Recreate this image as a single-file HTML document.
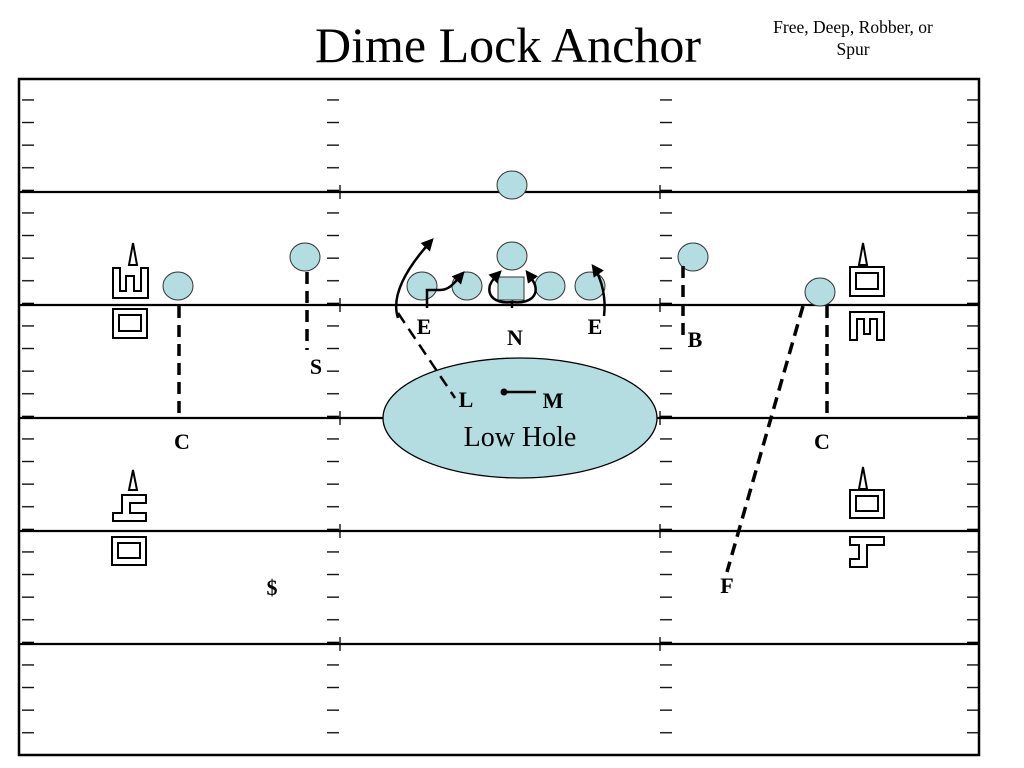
<!DOCTYPE html>
<html><head><meta charset="utf-8"><style>
html,body{margin:0;padding:0;background:#fff;}
svg{display:block;}
text{font-family:"Liberation Serif",serif;}
.b{font-weight:bold;font-size:22px;}
</style></head><body>
<svg width="1024" height="768" viewBox="0 0 1024 768" xmlns="http://www.w3.org/2000/svg">
<defs>
<pattern id="h" x="0" y="78" width="1024" height="22.6" patternUnits="userSpaceOnUse">
<rect x="22" y="21.3" width="12" height="2.8" fill="#000"/>
<rect x="327" y="21.3" width="12" height="2.8" fill="#000"/>
<rect x="660" y="21.3" width="12" height="2.8" fill="#000"/>
<rect x="967" y="21.3" width="12" height="2.8" fill="#000"/>
</pattern>
<marker id="ar" viewBox="0 0 10 10" refX="8" refY="5" markerWidth="5" markerHeight="5" orient="auto"><path d="M0,0 L10,5 L0,10 Z" fill="#000"/></marker>
</defs>
<text x="508" y="62" font-size="50" text-anchor="middle">Dime Lock Anchor</text>
<text x="853" y="33" font-size="17.5" text-anchor="middle">Free, Deep, Robber, or</text>
<text x="853" y="55" font-size="17.5" text-anchor="middle">Spur</text>

<rect x="18" y="78" width="962" height="678" fill="url(#h)"/>
<rect x="19" y="79" width="960" height="676" fill="none" stroke="#000" stroke-width="2.5"/>
<g stroke="#000" stroke-width="2.2">
<line x1="18" y1="192" x2="980" y2="192"/>
<line x1="18" y1="305" x2="980" y2="305"/>
<line x1="18" y1="418" x2="980" y2="418"/>
<line x1="18" y1="531" x2="980" y2="531"/>
<line x1="18" y1="644" x2="980" y2="644"/>
</g>
<g stroke="#000" stroke-width="1.3">
<line x1="340" y1="185" x2="340" y2="199"/><line x1="660" y1="185" x2="660" y2="199"/>
<line x1="340" y1="298" x2="340" y2="312"/><line x1="660" y1="298" x2="660" y2="312"/>
<line x1="340" y1="411" x2="340" y2="425"/><line x1="660" y1="411" x2="660" y2="425"/>
<line x1="340" y1="524" x2="340" y2="538"/><line x1="660" y1="524" x2="660" y2="538"/>
<line x1="340" y1="637" x2="340" y2="651"/><line x1="660" y1="637" x2="660" y2="651"/>
</g>

<ellipse cx="520" cy="418" rx="137" ry="60" fill="#b3dde0" stroke="#000" stroke-width="1.3"/>

<g fill="#b3dde0" stroke="#333" stroke-width="1">
<ellipse cx="512" cy="185" rx="15" ry="14"/>
<ellipse cx="178" cy="286" rx="15" ry="14"/>
<ellipse cx="305" cy="257" rx="15" ry="14"/>
<ellipse cx="422" cy="286" rx="15" ry="14"/>
<ellipse cx="467" cy="286" rx="15" ry="14"/>
<ellipse cx="512" cy="256" rx="15" ry="14"/>
<ellipse cx="550" cy="286" rx="15" ry="14"/>
<ellipse cx="590" cy="286" rx="15" ry="14"/>
<ellipse cx="693" cy="257" rx="15" ry="14"/>
<ellipse cx="820" cy="292" rx="15" ry="14"/>
<rect x="498" y="277" width="26" height="23"/>
</g>

<g stroke="#000" stroke-width="3.5" stroke-dasharray="12,7" fill="none">
<line x1="179" y1="306" x2="179" y2="414"/>
<line x1="307" y1="272" x2="307" y2="350"/>
<line x1="827" y1="306" x2="827" y2="414"/>
<line x1="683" y1="266" x2="683" y2="340"/>
<line x1="803" y1="306" x2="727" y2="572"/>
<line x1="398" y1="313" x2="455" y2="398" stroke-width="2.5"/>
</g>

<g stroke="#000" stroke-width="2.5" fill="none">
<path d="M398,318 C392,300 400,275 432,240" marker-end="url(#ar)"/>
<path d="M427,308 L427,290 L440,290 C450,290 455,282 463,273" marker-end="url(#ar)"/>
<path d="M512,308 L512,302 C495,304 487,296 490,285 C492,280 496,276 500,272" marker-end="url(#ar)"/>
<path d="M512,302 C530,304 538,296 535,285 C533,280 530,276 527,272" marker-end="url(#ar)"/>
<path d="M604,316 C606,300 603,280 593,266" marker-end="url(#ar)"/>
<line x1="505" y1="392" x2="536" y2="392"/>
</g>
<circle cx="504" cy="392" r="3.5" fill="#000"/>

<text class="b" x="424" y="334" text-anchor="middle">E</text>
<text class="b" x="515" y="345" text-anchor="middle">N</text>
<text class="b" x="595" y="334" text-anchor="middle">E</text>
<text class="b" x="695" y="347" text-anchor="middle">B</text>
<text class="b" x="316" y="374" text-anchor="middle">S</text>
<text class="b" x="466" y="407" text-anchor="middle">L</text>
<text class="b" x="553" y="408" text-anchor="middle">M</text>
<text x="520" y="446" font-size="28" text-anchor="middle">Low Hole</text>
<text class="b" x="182" y="449" text-anchor="middle">C</text>
<text class="b" x="822" y="449" text-anchor="middle">C</text>
<text class="b" x="272" y="595" text-anchor="middle">$</text>
<text class="b" x="727" y="593" text-anchor="middle">F</text>

<g stroke="#000" stroke-width="2" fill="none">
<path d="M133,243 L129,265 L137,265 Z"/>
<path d="M113,268 L120,268 L120,291 L126,291 L126,276 L134,276 L134,291 L141,291 L141,268 L148,268 L148,298 L113,298 Z"/>
<rect x="113" y="309" width="34" height="29"/><rect x="119" y="315" width="22" height="16"/>
<path d="M133,470 L129,490 L137,490 Z"/>
<path d="M113,521 L146,521 L146,513 L130,513 L130,503 L146,503 L146,495 L122,495 L122,513 L113,513 Z"/>
<rect x="112" y="537" width="34" height="28"/><rect x="118" y="543" width="22" height="15"/>
<path d="M863,243 L859,265 L867,265 Z"/>
<rect x="850" y="267" width="34" height="29"/><rect x="856" y="273" width="22" height="16"/>
<path d="M850,340 L850,312 L884,312 L884,340 L877,340 L877,319 L870,319 L870,334 L864,334 L864,319 L857,319 L857,340 Z"/>
<path d="M863,467 L859,489 L867,489 Z"/>
<rect x="850" y="490" width="34" height="28"/><rect x="856" y="496" width="22" height="15"/>
<path d="M850,537 L884,537 L884,545 L867,545 L867,567 L850,567 L850,559 L859,559 L859,545 L850,545 Z"/>
</g>
</svg>
</body></html>
